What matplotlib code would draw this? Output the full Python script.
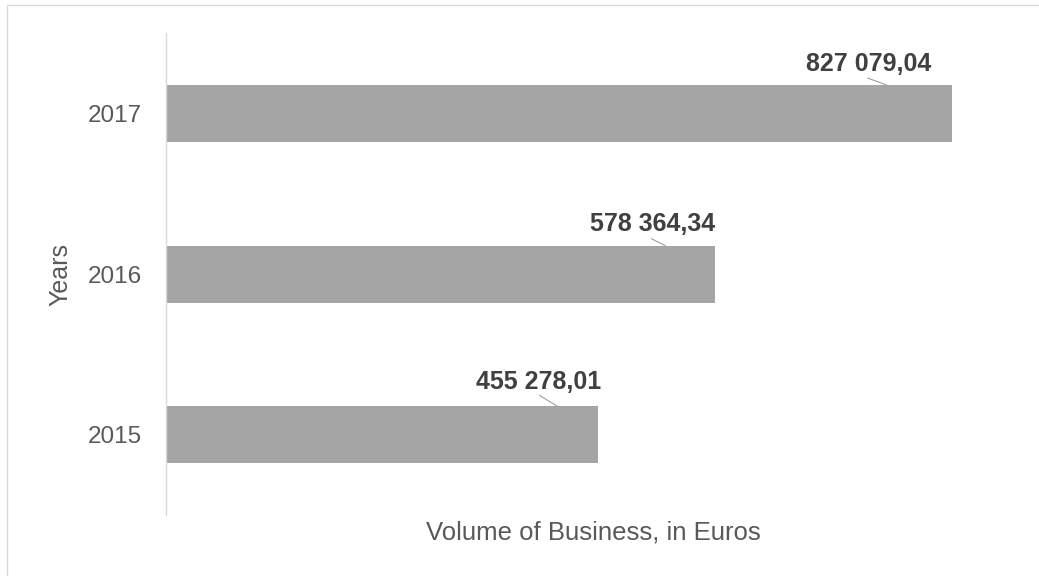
import matplotlib.pyplot as plt
from matplotlib.patches import Rectangle
from matplotlib.transforms import offset_copy

plt.rcParams['font.family'] = ['Liberation Sans', 'DejaVu Sans']

# Business volume per year (euros)
years = ['2015', '2016', '2017']
volumes = [455278.01, 578364.34, 827079.04]

# label placement relative to the bar's top-right corner, in pixels
text_dx = [-60, -63, -83]
text_dy = [17, 15, 14]
line_start = [(-59, 11), (-64, 7), (-84, 7)]
line_end_dx = [-41, -50, -65]

bar_color = '#A5A5A5'
bar_h = 0.355


def euro_fmt(v):
    return f"{v:,.2f}".replace(',', ' ').replace('.', ',')


fig = plt.figure(figsize=(10.39, 5.76), dpi=100)
ax = fig.add_axes([0.1593, 0.1059, 0.8234, 0.8363])

pos = range(len(years))
ax.barh(pos, volumes, height=bar_h, color=bar_color, zorder=2)
ax.set_xlim(0, 900000)
ax.set_ylim(-0.5, len(years) - 0.5)

for i, v in enumerate(volumes):
    top = i + bar_h / 2
    tr_text = offset_copy(ax.transData, fig=fig, x=text_dx[i], y=text_dy[i], units='dots')
    ax.text(v, top, euro_fmt(v), transform=tr_text, ha='center', va='baseline',
            fontsize=18, fontweight='bold', color='#404040')
    sx, sy = line_start[i]
    tr_a = offset_copy(ax.transData, fig=fig, x=sx, y=sy, units='dots')
    tr_b = offset_copy(ax.transData, fig=fig, x=line_end_dx[i], y=0, units='dots')
    ax.annotate('', xy=(v, top), xycoords=tr_b, xytext=(v, top), textcoords=tr_a,
                arrowprops=dict(arrowstyle='-', color='#A0A0A0', lw=0.8,
                                shrinkA=0, shrinkB=0))

ax.set_yticks(list(pos))
ax.set_yticklabels(years)
ax.set_xticks([])
ax.tick_params(axis='y', length=0, pad=17, labelsize=17.5, labelcolor='#595959')

for side in ['top', 'right', 'bottom']:
    ax.spines[side].set_visible(False)
ax.spines['left'].set_color('#D9D9D9')
ax.spines['left'].set_linewidth(1.0)

ax.set_xlabel('Volume of Business, in Euros', fontsize=18.5, color='#595959')
ax.xaxis.set_label_coords(0.5, -0.012)
ax.set_ylabel('Years', fontsize=18, color='#595959', va='center')
ax.yaxis.set_label_coords(-0.1233, 0.5)

# chart area frame
fig.patches.append(Rectangle((7.3 / 1039, -0.1), 1.2, 1.1 - 4.5 / 576,
                             transform=fig.transFigure, fill=False,
                             edgecolor='#D9D9D9', lw=1.0))

fig.savefig('out.png', dpi=100)
